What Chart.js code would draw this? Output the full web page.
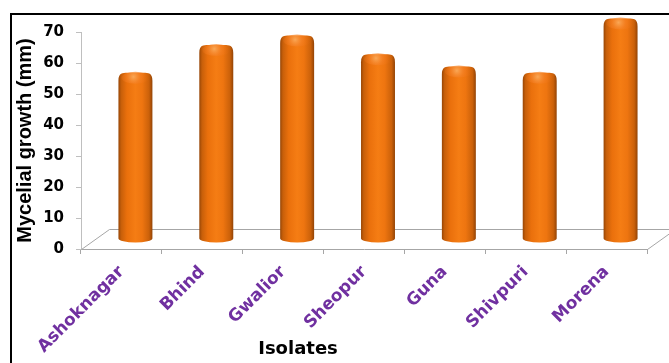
<!DOCTYPE html>
<html>
<head>
<meta charset="utf-8">
<script src="https://cdn.jsdelivr.net/npm/chart.js@4/dist/chart.umd.min.js"></script>
<style>
  html, body { margin: 0; padding: 0; background: #fff; }
  canvas { display: block; }
</style>
</head>
<body>
<canvas id="c" width="669" height="363"></canvas>
<script>
// Mycelial growth of the isolates (mm)
const isolates = ['Ashoknagar', 'Bhind', 'Gwalior', 'Sheopur', 'Guna', 'Shivpuri', 'Morena'];
const growthMm = [52, 61, 64, 58, 54, 52, 69.5];
const yMin = 0;
const yMax = 70;
const yStep = 10;
const yTitle = 'Mycelial growth (mm)';
const xTitle = 'Isolates';

// depth of the pseudo-3D floor, in pixels
const DEPTH_X = 28;
const DEPTH_Y = 20;

const floorPlugin = {
  id: 'floor3d',
  beforeDatasetsDraw(chart) {
    const { ctx, chartArea: a, scales: { y } } = chart;
    const y0 = Math.round(y.getPixelForValue(yMin)) + 0.5;
    const l = Math.round(a.left) + 0.5, r = Math.round(a.right) + 0.5;
    ctx.save();
    ctx.strokeStyle = '#a6a6a6';
    ctx.lineWidth = 1;
    ctx.beginPath();
    ctx.moveTo(l, y0);
    ctx.lineTo(l + DEPTH_X, y0 - DEPTH_Y);
    ctx.lineTo(r + DEPTH_X, y0 - DEPTH_Y);
    ctx.moveTo(r, y0);
    ctx.lineTo(r + DEPTH_X, y0 - DEPTH_Y);
    ctx.stroke();
    ctx.restore();
  }
};

function drawCylinder(ctx, cx, top, base, w) {
  const rx = w / 2, ry = 4, sh = 7;
  const left = cx - rx, right = cx + rx;
  const g = ctx.createLinearGradient(left, 0, right, 0);
  g.addColorStop(0.00, '#974606');
  g.addColorStop(0.08, '#c75f0a');
  g.addColorStop(0.25, '#ea700c');
  g.addColorStop(0.50, '#f57d14');
  g.addColorStop(0.70, '#ee7510');
  g.addColorStop(0.90, '#cb610a');
  g.addColorStop(1.00, '#934406');

  ctx.save();
  ctx.beginPath();
  ctx.moveTo(left, base);
  ctx.lineTo(left, top + sh - ry);
  ctx.bezierCurveTo(left, top - ry - 1, left + 4, top - ry - 1, left + sh + 2, top - ry - 1);
  ctx.lineTo(right - sh - 2, top - ry - 1);
  ctx.bezierCurveTo(right - 4, top - ry - 1, right, top - ry - 1, right, top + sh - ry);
  ctx.lineTo(right, base);
  ctx.ellipse(cx, base, rx, ry, 0, 0, Math.PI, false);
  ctx.closePath();
  ctx.fillStyle = g;
  ctx.fill();

  // lit top of the cap
  const hg = ctx.createRadialGradient(cx - 2, top - 1, 0, cx - 2, top - 1, rx * 0.9);
  hg.addColorStop(0, 'rgba(250,170,90,0.95)');
  hg.addColorStop(0.45, 'rgba(245,130,40,0.6)');
  hg.addColorStop(1, 'rgba(235,110,15,0)');
  ctx.beginPath();
  ctx.ellipse(cx, top, rx - 3, ry + 2, 0, 0, Math.PI * 2);
  ctx.fillStyle = hg;
  ctx.fill();
  ctx.restore();
}

const cylinderPlugin = {
  id: 'cylinders',
  afterDatasetsDraw(chart) {
    const { ctx } = chart;
    const meta = chart.getDatasetMeta(0);
    meta.data.forEach((bar) => {
      const cx = bar.x + DEPTH_X / 2;
      const top = bar.y - DEPTH_Y / 2;
      const base = bar.base - DEPTH_Y / 2;
      drawCylinder(ctx, cx, top, base, bar.width);
    });
  }
};

const framePlugin = {
  id: 'frame',
  afterDraw(chart) {
    const { ctx } = chart;
    ctx.save();
    ctx.strokeStyle = '#000';
    ctx.lineWidth = 2;
    ctx.strokeRect(11, 14, 700, 400);
    ctx.fillStyle = '#000';
    ctx.font = 'bold 18px "DejaVu Sans"';
    ctx.textAlign = 'center';
    ctx.textBaseline = 'middle';
    ctx.fillText(xTitle, 298, 349);
    ctx.restore();
  }
};

new Chart(document.getElementById('c'), {
  type: 'bar',
  data: {
    labels: isolates,
    datasets: [{
      data: growthMm,
      backgroundColor: 'rgba(0,0,0,0)',
      borderWidth: 0,
      categoryPercentage: 1,
      barPercentage: 0.42
    }]
  },
  options: {
    responsive: false,
    animation: false,
    events: [],
    layout: { padding: { top: 32, right: 22, left: 0, bottom: 0 } },
    plugins: { legend: { display: false }, tooltip: { enabled: false } },
    scales: {
      x: {
        afterFit(scale) { scale.height = 114; },
        grid: { drawOnChartArea: false, tickLength: 5, color: '#a6a6a6', offset: true },
        border: { color: '#a6a6a6' },
        ticks: {
          autoSkip: false,
          maxRotation: 45,
          minRotation: 45,
          padding: 8,
          color: '#7030a0',
          font: { family: 'DejaVu Sans', weight: 'bold', size: 17 }
        }
      },
      y: {
        min: yMin,
        max: yMax,
        afterFit(scale) { scale.width = 81; },
        grid: { drawOnChartArea: false, tickLength: 5, color: '#bfbfbf' },
        border: { color: '#bfbfbf' },
        ticks: {
          stepSize: yStep,
          padding: 12,
          color: '#000',
          font: { family: 'DejaVu Sans', weight: 'bold', size: 15 }
        },
        title: {
          display: true,
          text: yTitle,
          color: '#000',
          padding: { top: 13, bottom: 0 },
          font: { family: 'Liberation Sans', weight: 'bold', size: 20 }
        }
      }
    }
  },
  plugins: [floorPlugin, cylinderPlugin, framePlugin]
});
</script>
</body>
</html>
